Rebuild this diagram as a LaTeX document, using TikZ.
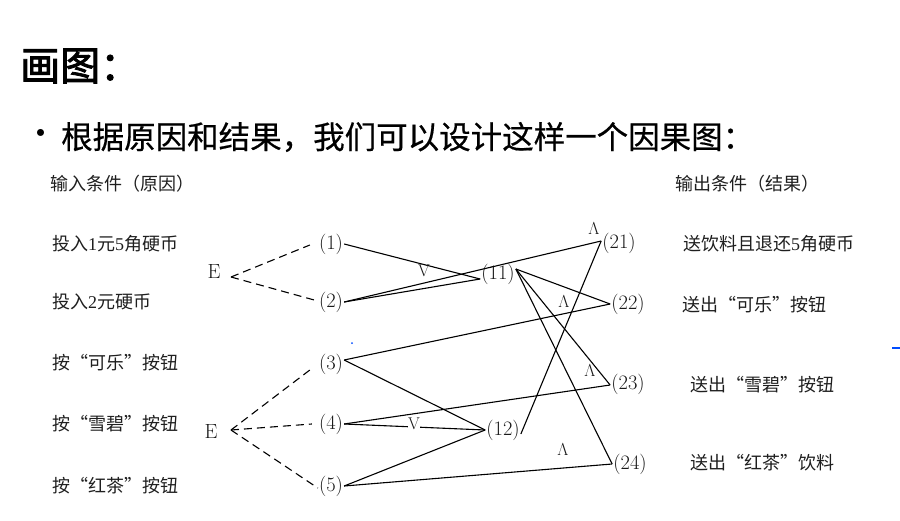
\documentclass[tikz,border=0pt]{standalone}
\usepackage{fontspec}
\newfontfamily\cjk{Noto Sans CJK SC}
\newfontfamily\cjktitle[FakeBold=2.2]{Noto Sans CJK SC}
\newfontfamily\cjkmed[FakeBold=0.5]{Noto Sans CJK SC}
\newfontfamily\serdig{Liberation Serif}
\begin{document}
\begin{tikzpicture}[x=1pt,y=-1pt,
  lbl/.style={font=\cjk\fontsize{18}{20}\selectfont, text=black!88, anchor=west, inner sep=0pt},
  nd/.style={font=\fontsize{20.5}{23}\selectfont, text=black!90, inner sep=1pt},
  opl/.style={font=\fontsize{17}{19}\selectfont, text=black!90, inner sep=1pt},
  wire/.style={line width=1.1pt, black},
  dwire/.style={line width=1.1pt, black, dash pattern=on 8pt off 5pt}]
\useasboundingbox (0,0) rectangle (900,520);
\fill[white] (0,0) rectangle (900,520);
% title
\node[anchor=west, inner sep=0pt, font=\cjktitle\fontsize{40}{44}\selectfont] (title) at (20,66) {画图：};
\node[anchor=center, inner sep=0pt, font=\cjk\fontsize{33}{33}\selectfont] (dot) at (41,137) {•};
\node[anchor=west, inner sep=0pt, font=\cjkmed\fontsize{31.5}{34}\selectfont] (bul) at (61,137) {根据原因和结果，我们可以设计这样一个因果图：};
% headers
\node[lbl] (hin) at (50,184) {输入条件（原因）};
\node[lbl] (hout) at (675,184) {输出条件（结果）};
% left labels
\node[lbl] (c1) at (52,244) {投入{\serdig 1}元{\serdig 5}角硬币};
\node[lbl] (c2) at (52,302) {投入{\serdig 2}元硬币};
\node[lbl] (c3) at (52,363) {按“可乐”按钮};
\node[lbl] (c4) at (52,424) {按“雪碧”按钮};
\node[lbl] (c5) at (52,486) {按“红茶”按钮};
% right labels
\node[lbl] (r1) at (683,244) {送饮料且退还{\serdig 5}角硬币};
\node[lbl] (r2) at (682,305) {送出“可乐”按钮};
\node[lbl] (r3) at (690,385) {送出“雪碧”按钮};
\node[lbl] (r4) at (690,463) {送出“红茶”饮料};
% cause nodes
\node[nd] (n1) at (331,244) {(1)};
\node[nd] (n2) at (331,302) {(2)};
\node[nd] (n3) at (331,364) {(3)};
\node[nd] (n4) at (331,424) {(4)};
\node[nd] (n5) at (331,486) {(5)};
% intermediate
\node[nd] (n11) at (498,274) {(11)};
\node[nd] (n12) at (503,430) {(12)};
% effects
\node[nd] (n21) at (619,243) {(21)};
\node[nd] (n22) at (628,304) {(22)};
\node[nd] (n23) at (628,384) {(23)};
\node[nd] (n24) at (630,464) {(24)};
% E nodes
\node[nd] (e1) at (214,272) {E};
\node[nd] (e2) at (211,432) {E};
\coordinate (ea) at (231,277);
\coordinate (eb) at (231,430);
% dashed
\draw[dwire] (ea) -- ([xshift=-8pt,yshift=-1pt]n1.west);
\draw[dwire] (ea) -- ([yshift=1pt]n2.west);
\draw[dwire] (eb) -- ([xshift=-8pt,yshift=-6pt]n3.west);
\draw[dwire] (eb) -- ([xshift=-6pt]n4.west);
\draw[dwire] (eb) -- ([yshift=-2pt]n5.west);
% solid
\draw[wire] (n1.east) -- ([yshift=-5pt]n11.west);
\draw[wire] (n2.east) -- ([yshift=-5pt]n11.west);
\draw[wire] (n2.east) -- ([yshift=2pt]n21.west);
\draw[wire] ([yshift=5pt]n11.east) -- (n22.west);
\draw[wire] ([yshift=5pt]n11.east) -- ([yshift=-1pt]n23.west);
\draw[wire] ([yshift=5pt]n11.east) -- (n24.west);
\draw[wire] ([yshift=4pt]n3.east) -- (n22.west);
\draw[wire] ([yshift=4pt]n3.east) -- (n12.west);
\draw[wire] (n4.east) -- ([yshift=-1pt]n23.west);
\draw[wire] (n4.east) -- (n12.west);
\draw[wire] (n5.east) -- (n12.west);
\draw[wire] (n5.east) -- (n24.west);
\draw[wire] ([yshift=-4pt]n12.east) -- ([yshift=2pt]n21.west);
% operator labels
\node[opl] (v1) at (424,271) {V};
\node[opl, fill=white, inner sep=0.5pt] (v2) at (414,424) {V};
\node[opl] (a1) at (594,229) {$\Lambda$};
\node[opl] (a2) at (564,302) {$\Lambda$};
\node[opl] (a3) at (590,371) {$\Lambda$};
\node[opl] (a4) at (563,450) {$\Lambda$};
% small blue marks
\fill[blue!70!cyan] (352,343) circle (1pt);
\draw[blue!70!cyan, line width=1.2pt] (892,348) -- (900,348);
\end{tikzpicture}
\end{document}
